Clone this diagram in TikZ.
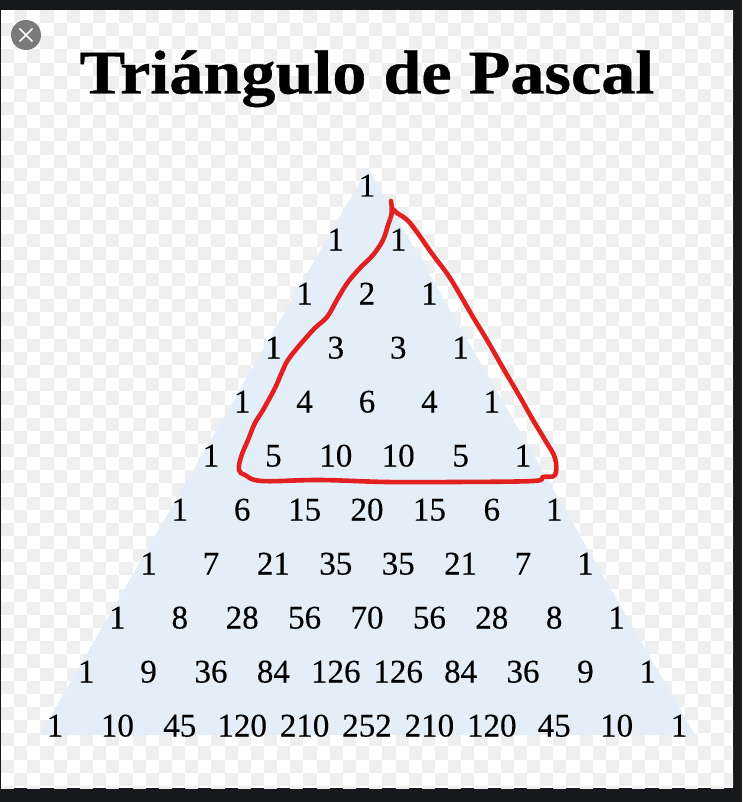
\documentclass[tikz,border=0pt]{standalone}
\usepackage{fontspec}
\setmainfont{Liberation Serif}
\newfontfamily\titlefont[FakeStretch=1.1,FakeBold=0.6]{Liberation Serif Bold}
\newfontfamily\numfont[FakeBold=0.25]{Liberation Serif}
\definecolor{frameDark}{HTML}{16181C}
\definecolor{checkGray}{HTML}{EFEFEF}
\definecolor{triFill}{HTML}{E4EEF9}
\definecolor{penRed}{HTML}{E2201F}
\definecolor{closeGray}{HTML}{7A7A7A}
\tikzset{
  num/.style={inner sep=0pt,font=\numfont\fontsize{33}{33}\selectfont,text=black},
  titletext/.style={inner sep=0pt,font=\titlefont\fontsize{62}{62}\selectfont,text=black,anchor=base},
  pen/.style={draw=penRed,line width=4.6pt,line join=round,line cap=round}
}
\begin{document}
\begin{tikzpicture}[x=1pt,y=-1pt]
\useasboundingbox (0,0) rectangle (742,802);
\fill[frameDark] (0,0) rectangle (742,802);
\fill[white] (1,10) rectangle (733,788);
% checkerboard
\begin{scope}
\clip (1,10) rectangle (733,788);
\foreach \i in {0,...,55}{\foreach \j in {0,...,59}{
  \pgfmathtruncatemacro{\odd}{mod(\i+\j,2)}
  \ifnum\odd=1
    \fill[checkGray] ({1+13.15*\i},{10+13.15*\j}) rectangle ++(13.15,13.15);
  \fi
}}
\end{scope}
% close button
\fill[closeGray] (26,35) circle (15);
\draw[white,line width=1.6pt] (19.5,28.5) -- (32.5,41.5) (32.5,28.5) -- (19.5,41.5);
% title
\node[titletext] (title) at (367,93.5) {Triángulo de Pascal};
% triangle
\fill[triFill] (368,168) -- (695,735) -- (40,735) -- cycle;
% numbers
\foreach \row/\vals in {
  0/{1},
  1/{1,1},
  2/{1,2,1},
  3/{1,3,3,1},
  4/{1,4,6,4,1},
  5/{1,5,10,10,5,1},
  6/{1,6,15,20,15,6,1},
  7/{1,7,21,35,35,21,7,1},
  8/{1,8,28,56,70,56,28,8,1},
  9/{1,9,36,84,126,126,84,36,9,1},
  10/{1,10,45,120,210,252,210,120,45,10,1}}{
  \foreach \v [count=\k from 0] in \vals {
    \node[num,anchor=base] (n\row-\k) at ({367+(2*\k-\row)*31.2},{196.5+54*\row}) {\v};
  }
}
% red hand-drawn outline
\draw[pen] plot[smooth,tension=0.6] coordinates {
 (391,201) (391.7,213) (388,225) (383,240) (373,255) (360,268) (348,282) (338,298)
 (327,317) (313,330) (290,357) (282,372) (275,388) (263,410) (255,423) (248,440)
 (241,457) (239,470) (245,475) (262,481) (320,480) (387,482) (453,482) (533,481)
 (543,477) (555,475) (555,458) (545,440) (533,420) (520,397) (503,368) (487,340)
 (473,317) (450,278) (433,255) (410,223) (397,213) (392,208)};
\end{tikzpicture}
\end{document}
